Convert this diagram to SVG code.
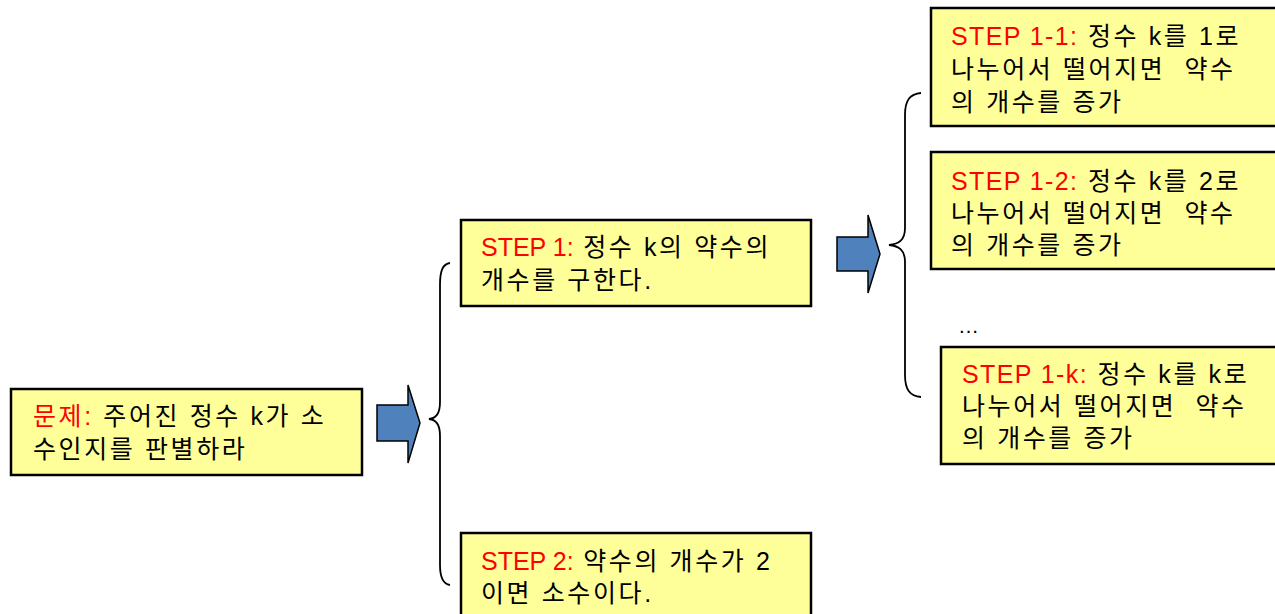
<svg xmlns="http://www.w3.org/2000/svg" width="1275" height="614" viewBox="0 0 1275 614">
<style>
.box{fill:#FFFF99;stroke:#000;stroke-width:2.5}
.arrow{fill:#4F81BD;stroke:#000;stroke-width:1.5;stroke-linejoin:miter}
.brace{fill:none;stroke:#000;stroke-width:1.8}
text{font-family:"Liberation Sans","Noto Sans CJK KR",sans-serif;font-size:25px;fill:#000;white-space:pre}
.red{fill:#FF0000}
.h{letter-spacing:1.4px}
.k{letter-spacing:2.6px}
</style>
<rect width="1275" height="614" fill="#fff"/>
<g id="connectors">
<polygon class="arrow" points="377,405 408,405 408,385 420,423 408,463 408,441 377,441"/>
<path class="brace" d="M450,263 C443,264 440,270 440,285 L440,402 C440,414 436,418 429,419 C436,420 440,424 440,436 L440,565 C440,578 443,584 450,585"/>
<polygon class="arrow" points="837,237 868,237 868,215 880,254 868,293 868,271 837,271"/>
<path class="brace" d="M921,93 C910,94 905,100 905,115 L905,228 C905,240 899,244 889,245 C899,246 905,250 905,262 L905,375 C905,390 910,396 921,397"/>
</g>
<g id="node-problem">
<rect class="box" x="11" y="389" width="351" height="86"/>
<text x="33" y="425" xml:space="preserve"><tspan class="red k">문제:</tspan><tspan class="k"> 주어진 정수 k가 소</tspan></text>
<text x="33" y="458" class="k">수인지를 판별하라</text>
</g>
<g id="node-step1">
<rect class="box" x="461" y="220" width="350" height="86"/>
<text x="481" y="256" xml:space="preserve"><tspan class="red">STEP 1:</tspan><tspan class="k"> 정수 k의 약수의</tspan></text>
<text x="481" y="289" class="k">개수를 구한다.</text>
</g>
<g id="node-step2">
<rect class="box" x="461" y="533" width="350" height="90"/>
<text x="481" y="570" xml:space="preserve"><tspan class="red">STEP 2:</tspan><tspan class="k"> 약수의 개수가 2</tspan></text>
<text x="481" y="602" class="k">이면 소수이다.</text>
</g>
<g id="node-step1-1">
<rect class="box" x="931" y="8" width="350" height="118"/>
<text x="951" y="45" xml:space="preserve"><tspan class="red h">STEP 1-1:</tspan><tspan class="k"> 정수 k를 1로</tspan></text>
<text x="951" y="78" class="k" xml:space="preserve">나누어서 떨어지면  약수</text>
<text x="951" y="111" class="k">의 개수를 증가</text>
</g>
<g id="node-step1-2">
<rect class="box" x="931" y="152" width="350" height="117"/>
<text x="951" y="190" xml:space="preserve"><tspan class="red h">STEP 1-2:</tspan><tspan class="k"> 정수 k를 2로</tspan></text>
<text x="951" y="222" class="k" xml:space="preserve">나누어서 떨어지면  약수</text>
<text x="951" y="254" class="k">의 개수를 증가</text>
</g>
<g id="ellipsis">
<text x="958" y="333" style="font-size:21px;letter-spacing:1px">…</text>
</g>
<g id="node-step1-k">
<rect class="box" x="941" y="347" width="340" height="117"/>
<text x="962" y="383" xml:space="preserve"><tspan class="red h">STEP 1-k:</tspan><tspan class="k"> 정수 k를 k로</tspan></text>
<text x="962" y="415" class="k" xml:space="preserve">나누어서 떨어지면  약수</text>
<text x="962" y="447" class="k">의 개수를 증가</text>
</g>
</svg>
